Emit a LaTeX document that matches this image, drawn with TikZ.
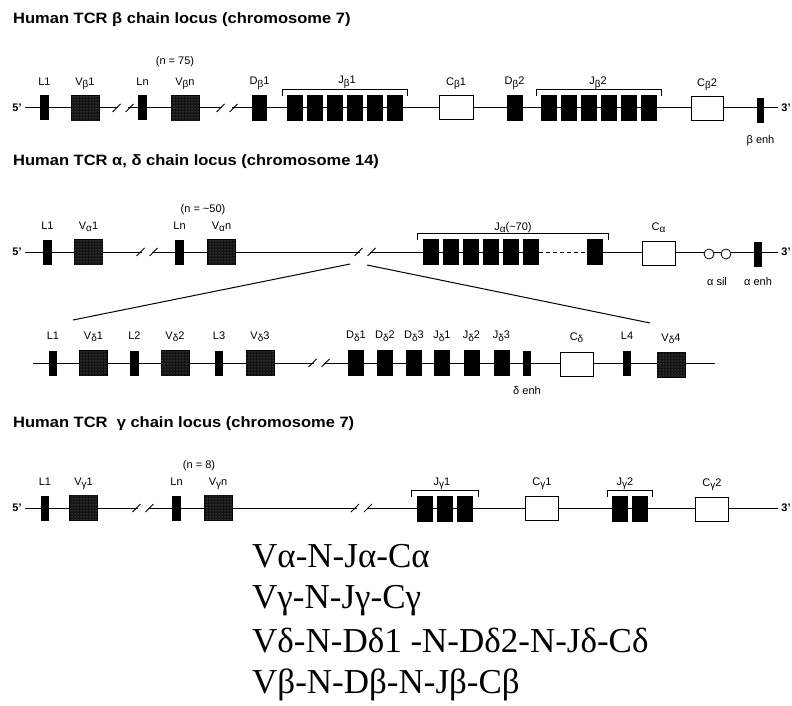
\documentclass[tikz,border=0pt]{standalone}
\usepackage{fontspec}
\setmainfont{Liberation Sans}
\newfontfamily\chainfont{Liberation Serif}
\newfontfamily\titlefont[FakeStretch=1.1]{Liberation Sans}
\usetikzlibrary{positioning,calc,backgrounds,patterns}

\newcommand{\gsub}[1]{\raisebox{-0.4ex}{\fontsize{10}{10}\selectfont #1}}

\begin{document}
\begin{tikzpicture}[
  x=1pt, y=-1pt,
  node distance=10pt,
  title/.style={font=\titlefont\fontsize{15}{17}\selectfont\bfseries, anchor=base west, inner sep=0pt},
  lab/.style={font=\fontsize{11}{12}\selectfont, anchor=base, inner sep=0pt},
  prime/.style={font=\fontsize{11}{12}\selectfont\bfseries, inner sep=3pt},
  lbar/.style={fill=black, minimum width=8.5pt, minimum height=25pt, inner sep=0pt},
  vseg/.style={draw=black, fill=black!92, postaction={pattern=dots, pattern color=black!45}, minimum width=28pt, minimum height=25pt, inner sep=0pt},
  jseg/.style={fill=black, minimum width=16pt, minimum height=26pt, inner sep=0pt},
  cseg/.style={draw=black, fill=white, line width=1pt, minimum width=33pt, minimum height=24pt, inner sep=0pt},
  sil/.style={circle, draw=black, fill=white, line width=0.8pt, minimum size=10pt, inner sep=0pt},
  line/.style={line width=1pt},
  brace/.style={line width=0.9pt},
  chain/.style={font=\chainfont\fontsize{35}{42}\selectfont, anchor=base west, inner sep=0pt},
  brk/.pic={\fill[white] (-5,-2.5) rectangle (5,2.5);
            \draw[line] (-10.5,4) -- (-2.5,-4) (2.5,4) -- (10.5,-4);}
]
\useasboundingbox (0,0) rectangle (792,706);

% beta locus
\node[title] (btitle) at (13,24) {Human TCR β chain locus (chromosome 7)};
\node[prime] (b5) at (17,108) {5'};
\node[prime] (b3) at (786,108) {3'};
\node[lbar] (bl1) at (44.5,108) {};
\node[vseg] (bv1) at (85,108) {};
\pic at (123,108) {brk};
\node[lbar] (bln) at (142.5,108) {};
\node[vseg] (bvn) at (185,108) {};
\pic at (227,108) {brk};
\node[jseg, minimum width=15pt] (bd1) at (259.5,108) {};
\node[jseg] (bja) at (295,108) {};
\node[jseg] (bjb) at (315,108) {};
\node[jseg] (bjc) at (335,108) {};
\node[jseg] (bjd) at (355,108) {};
\node[jseg] (bje) at (375,108) {};
\node[jseg] (bjf) at (395,108) {};
\node[cseg, minimum width=34pt] (bc1) at (456,108) {};
\node[jseg] (bd2) at (514.5,108) {};
\node[jseg] (bka) at (549,108) {};
\node[jseg] (bkb) at (569,108) {};
\node[jseg] (bkc) at (589,108) {};
\node[jseg] (bkd) at (609,108) {};
\node[jseg] (bke) at (629,108) {};
\node[jseg] (bkf) at (649,108) {};
\node[cseg, minimum width=32pt] (bc2) at (707,109) {};
\node[lbar, minimum width=7pt] (benh) at (760.5,111) {};

\node[above=10pt of bl1, lab] (bl1t) {L1};
\node[above=10pt of bv1, lab] (bv1t) {V\gsub{β}1};
\node[above=10pt of bln, lab] (blnt) {Ln};
\node[above=10pt of bvn, lab] (bvnt) {V\gsub{β}n};
\node[lab] (bnum) at (175,65) {(n = 75)};
\node[above=10pt of bd1, lab] (bd1t) {D\gsub{β}1};
\node[lab] (bj1t) at (347,84) {J\gsub{β}1};
\node[above=10pt of bc1, lab] (bc1t) {C\gsub{β}1};
\node[above=10pt of bd2, lab] (bd2t) {D\gsub{β}2};
\node[lab] (bj2t) at (598,85) {J\gsub{β}2};
\node[above=10pt of bc2, lab] (bc2t) {C\gsub{β}2};
\node[lab, below=12pt of benh] (bent) {β enh};

\draw[brace] ([xshift=-4pt,yshift=-1pt]bja.north west) -- ++(0,-6) -| ([xshift=4pt,yshift=-1pt]bjf.north east);
\draw[brace] ([xshift=-4pt,yshift=-1pt]bka.north west) -- ++(0,-6) -| ([xshift=4pt,yshift=-1pt]bkf.north east);

% alpha/delta locus
\node[title] (atitle) at (13,165) {Human TCR α, δ chain locus (chromosome 14)};
\node[prime] (a5) at (17,252) {5'};
\node[prime] (a3) at (786,252) {3'};
\node[lbar] (al1) at (47.5,252) {};
\node[vseg] (av1) at (88.5,252) {};
\pic at (147,252) {brk};
\node[lbar] (aln) at (179.5,252) {};
\node[vseg] (avn) at (221.5,252) {};
\pic at (365,252) {brk};
\node[jseg] (aja) at (431,252) {};
\node[jseg] (ajb) at (451,252) {};
\node[jseg] (ajc) at (471,252) {};
\node[jseg] (ajd) at (491,252) {};
\node[jseg] (aje) at (511,252) {};
\node[jseg] (ajf) at (531,252) {};
\node[jseg] (ajl) at (595,252) {};
\node[cseg] (ac) at (658.5,253) {};
\node[sil] (as1) at (709,254) {};
\node[sil] (as2) at (726,254) {};
\node[lbar] (aenh) at (758,254) {};

\node[above=10pt of al1, lab] (al1t) {L1};
\node[above=10pt of av1, lab] (av1t) {V\gsub{α}1};
\node[above=10pt of aln, lab] (alnt) {Ln};
\node[above=10pt of avn, lab] (avnt) {V\gsub{α}n};
\node[lab] (anum) at (203,212) {(n = \textasciitilde 50)};
\node[lab] (ajt) at (513,230) {J\gsub{α}(\textasciitilde 70)};
\node[above=10pt of ac, lab] (act) {C\gsub{α}};
\node[lab] (asilt) at (717,285) {α sil};
\node[lab, below=11pt of aenh] (aent) {α enh};

\draw[brace] ([xshift=-5pt,yshift=-1pt]aja.north west) -- ++(0,-6) -| ([xshift=5pt,yshift=-1pt]ajl.north east);
\draw[line, dashed, dash pattern=on 4pt off 3pt] (ajf) -- (ajl);

% delta region (expanded)
\coordinate (zl) at (350,264);
\coordinate (zr) at (367,265);
\coordinate (zl2) at (73,320);
\coordinate (zr2) at (650,323);
\draw[line] (zl) -- (zl2);
\draw[line] (zr) -- (zr2);

\coordinate (dl) at (33,363);
\coordinate (dr) at (715,363);
\node[lbar] (dl1) at (53,363) {};
\node[vseg] (dv1) at (93.5,363) {};
\node[lbar] (dl2) at (134.5,363) {};
\node[vseg] (dv2) at (175,363) {};
\node[lbar] (dl3) at (219,363) {};
\node[vseg] (dv3) at (260,363) {};
\pic at (319,363) {brk};
\node[jseg] (dd1) at (356,363) {};
\node[jseg] (dd2) at (385,363) {};
\node[jseg] (dd3) at (414,363) {};
\node[jseg] (dj1) at (442,363) {};
\node[jseg] (dj2) at (471.5,363) {};
\node[jseg] (dj3) at (501.5,363) {};
\node[lbar] (denh) at (527,363) {};
\node[cseg] (dc) at (576.5,364) {};
\node[lbar] (dl4) at (627,363) {};
\node[vseg] (dv4) at (671,365) {};

\node[above=11pt of dl1, lab] (dl1t) {L1};
\node[above=11pt of dv1, lab] (dv1t) {V\gsub{δ}1};
\node[above=11pt of dl2, lab] (dl2t) {L2};
\node[above=11pt of dv2, lab] (dv2t) {V\gsub{δ}2};
\node[above=11pt of dl3, lab] (dl3t) {L3};
\node[above=11pt of dv3, lab] (dv3t) {V\gsub{δ}3};
\node[above=11pt of dd1, lab] (dd1t) {D\gsub{δ}1};
\node[above=11pt of dd2, lab] (dd2t) {D\gsub{δ}2};
\node[above=11pt of dd3, lab] (dd3t) {D\gsub{δ}3};
\node[above=11pt of dj1, lab] (dj1t) {J\gsub{δ}1};
\node[above=11pt of dj2, lab] (dj2t) {J\gsub{δ}2};
\node[above=11pt of dj3, lab] (dj3t) {J\gsub{δ}3};
\node[above=11pt of dc, lab] (dct) {C\gsub{δ}};
\node[above=11pt of dl4, lab] (dl4t) {L4};
\node[above=11pt of dv4, lab] (dv4t) {V\gsub{δ}4};
\node[lab, below=11pt of denh] (dent) {δ enh};

% gamma locus
\node[title] (gtitle) at (13,427) {Human TCR \ γ chain locus (chromosome 7)};
\node[prime] (g5) at (17,508) {5'};
\node[prime] (g3) at (786,508) {3'};
\node[lbar] (gl1) at (45,508) {};
\node[vseg] (gv1) at (83.5,508) {};
\pic at (143,508) {brk};
\node[lbar] (gln) at (176.5,508) {};
\node[vseg] (gvn) at (218,508) {};
\pic at (361.5,508) {brk};
\node[jseg] (gja) at (425,509) {};
\node[jseg] (gjb) at (445,509) {};
\node[jseg] (gjc) at (465,509) {};
\node[cseg] (gc1) at (542,508) {};
\node[jseg] (gka) at (620,509) {};
\node[jseg] (gkb) at (640,509) {};
\node[cseg] (gc2) at (712,509) {};

\node[above=10pt of gl1, lab] (gl1t) {L1};
\node[above=10pt of gv1, lab] (gv1t) {V\gsub{γ}1};
\node[above=10pt of gln, lab] (glnt) {Ln};
\node[above=10pt of gvn, lab] (gvnt) {V\gsub{γ}n};
\node[lab] (gnum) at (199,468) {(n = 8)};
\node[lab] (gj1t) at (442,485) {J\gsub{γ}1};
\node[above=10pt of gc1, lab] (gc1t) {C\gsub{γ}1};
\node[lab] (gj2t) at (625,485) {J\gsub{γ}2};
\node[above=10pt of gc2, lab] (gc2t) {C\gsub{γ}2};

\draw[brace] ([xshift=-5pt,yshift=-1pt]gja.north west) -- ++(0,-6) -| ([xshift=5pt,yshift=-1pt]gjc.north east);
\draw[brace] ([xshift=-4pt,yshift=-1pt]gka.north west) -- ++(0,-6) -| ([xshift=4pt,yshift=-1pt]gkb.north east);

% backbones
\begin{scope}[on background layer]
  \draw[line] (b5) -- (b3);
  \draw[line] (a5) -- (ajf);
  \draw[line] (ajl) -- (a3);
  \draw[line] (dl) -- (dr);
  \draw[line] (g5) -- (g3);
\end{scope}

% chain rearrangements
\node[chain] (cha) at (252,567) {Vα-N-Jα-Cα};
\node[chain] (chg) at (252,608) {Vγ-N-Jγ-Cγ};
\node[chain] (chd) at (252,652) {Vδ-N-Dδ1 -N-Dδ2-N-Jδ-Cδ};
\node[chain] (chb) at (252,693) {Vβ-N-Dβ-N-Jβ-Cβ};
\end{tikzpicture}
\end{document}
